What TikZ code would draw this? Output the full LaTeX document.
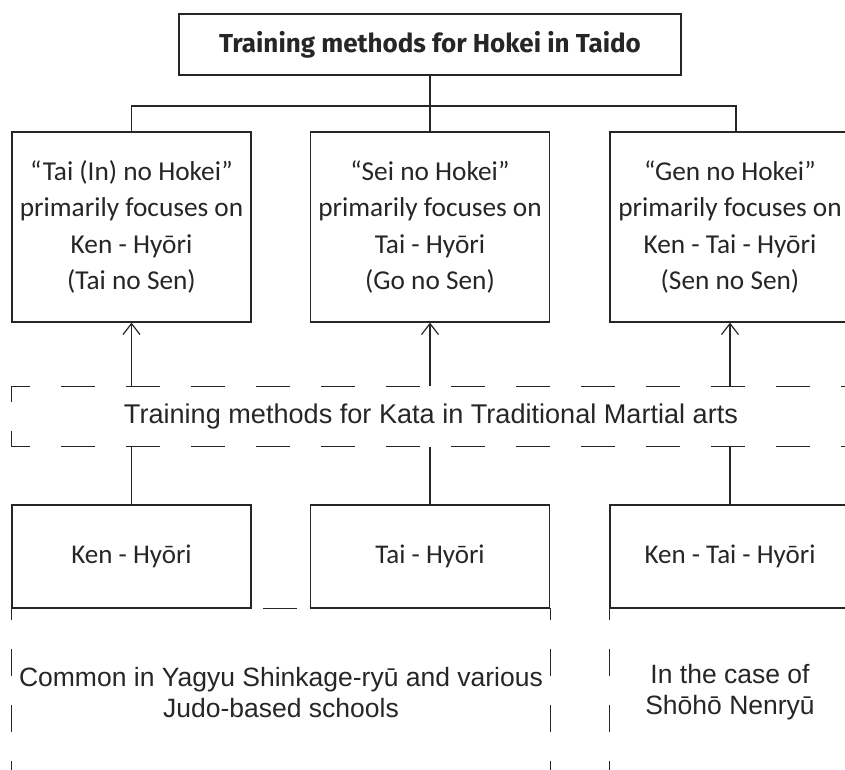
\documentclass[tikz,border=0pt]{standalone}
\usepackage{fontspec}
\setmainfont{Carlito}
\newfontfamily\plexfont{Liberation Sans}
\newfontfamily\titlefont{Fira Sans}
\usetikzlibrary{arrows.meta}

\begin{document}
\begin{tikzpicture}[x=1pt, y=-1pt, >={Straight Barb[length=11pt,width=17pt]},
    line width=1.2pt, draw=black!85, text=black!85,
    every node/.style={inner sep=0pt, align=center},
    titlebox/.style={draw, fill=white, minimum width=502, minimum height=61, font=\titlefont\bfseries\fontsize{26}{30}\selectfont},
    hokeibox/.style={draw, fill=white, minimum width=239, minimum height=190, font=\fontsize{27.3}{36.5}\selectfont},
    katabox/.style={minimum width=838, minimum height=59, font=\plexfont\fontsize{27.1}{31}\selectfont},
    kindbox/.style={draw, fill=white, minimum width=239, minimum height=103, font=\fontsize{27}{31}\selectfont},
    schoolbox/.style={minimum height=167, font=\plexfont\fontsize{26.5}{31}\selectfont},
    katadash/.style={dash pattern=on 34pt off 31pt, dash phase=20pt},
    toprule/.style={dash pattern=on 34pt off 33pt, dash phase=16pt},
    siderule/.style={dash pattern=on 27pt off 29pt, dash phase=15pt}]
  \useasboundingbox (0,0) rectangle (845,769);
  \clip (0,0) rectangle (845,769);

  \node[schoolbox, minimum width=538] (common) at (281,692.5) {Common in Yagyu Shinkage-ryū and various\\Judo-based schools};
  \node[schoolbox, minimum width=240] (shoho) at (730,692.5) {In the case of\\Shōhō Nenryū};
  \draw[toprule] (common.north west) -- (common.north east);
  \draw[siderule] (common.north west) -- (common.south west);
  \draw[siderule] (common.north east) -- (common.south east);
  \draw[toprule, dash pattern=on 30pt off 30pt, dash phase=17pt] (shoho.north west) -- (shoho.north east);
  \draw[siderule] (shoho.north west) -- (shoho.south west);

  \node[titlebox] (title) at (430,44.5) {Training methods for Hokei in Taido};
  \node[hokeibox] (tai) at (131.5,227) {“Tai (In) no Hokei”\\primarily focuses on\\Ken - Hyōri\\(Tai no Sen)};
  \node[hokeibox] (sei) at (430,227) {“Sei no Hokei”\\primarily focuses on\\Tai - Hyōri\\(Go no Sen)};
  \node[hokeibox, minimum width=240] (gen) at (730,227) {“Gen no Hokei”\\primarily focuses on\\Ken - Tai - Hyōri\\(Sen no Sen)};

  \node[katabox] (kata) at (431,416.5) {Training methods for Kata in Traditional Martial arts};
  \draw[katadash] (kata.south west) -- (kata.north west) -- (kata.north east);
  \draw[katadash] (kata.north west) -- (kata.south west) -- (kata.south east);

  \node[kindbox] (kenb) at (131.5,556.5) {Ken - Hyōri};
  \node[kindbox] (taib) at (430,556.5) {Tai - Hyōri};
  \node[kindbox, minimum width=240] (kentaib) at (730,556.5) {Ken - Tai - Hyōri};

  \coordinate (bar) at (430,106);
  \draw (title.south) -- (bar);
  \draw (tai.north) |- (bar) -| ([xshift=6pt]gen.north);
  \draw (bar) -- (sei.north);

  \draw[->] (kata.north -| tai.south) -- (tai.south);
  \draw[->] (kata.north -| sei.south) -- (sei.south);
  \draw[->] (kata.north -| gen.south) -- (gen.south);

  \draw (kata.south -| kenb.north) -- (kenb.north);
  \draw (kata.south -| taib.north) -- (taib.north);
  \draw (kata.south -| kentaib.north) -- (kentaib.north);
\end{tikzpicture}
\end{document}
